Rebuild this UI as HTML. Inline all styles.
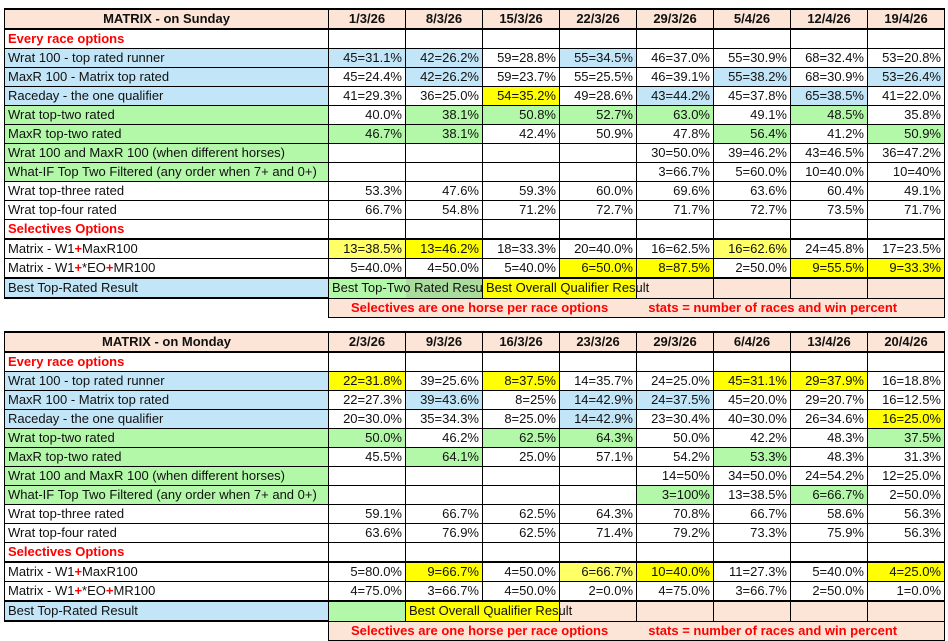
<!DOCTYPE html>
<html><head><meta charset="utf-8"><style>
body{margin:0;width:948px;height:639px;background:#fff;position:relative;overflow:hidden;font-family:"Liberation Sans",sans-serif;}
table{position:absolute;left:4px;width:940px;border-collapse:collapse;table-layout:fixed;font-size:13px;}
td{border:1px solid #000;height:18px;padding:0 3px;white-space:nowrap;overflow:hidden;text-align:right;line-height:18px;color:#111;}
td.l{text-align:left;overflow:visible;}
tr.h td{background:#fce4d6;font-weight:bold;text-align:center;height:17px;border-bottom:2px solid #000;border-top:2px solid #000;}
.r{color:#f00;font-weight:bold;}
.B{background:#c2e6f7;}
.G{background:#b3f7a8;}
.Y{background:#ffff00;}
.LY{background:#ffff66;}
.P{background:#fce4d6;}
.DG{background:#a9dc9d;}
.note td.n{background:#fce4d6;border:1px solid #000;color:#f00;font-weight:bold;text-align:left;padding-left:22px;}
tr.tb td{border-top:2px solid #000;}
</style></head><body>

<table style="top:8px">
<colgroup><col style="width:324px"><col style="width:77px"><col style="width:77px"><col style="width:77px"><col style="width:77px"><col style="width:77px"><col style="width:77px"><col style="width:77px"><col style="width:77px"></colgroup>
<tr class="h"><td>MATRIX - on Sunday</td><td>1/3/26</td><td>8/3/26</td><td>15/3/26</td><td>22/3/26</td><td>29/3/26</td><td>5/4/26</td><td>12/4/26</td><td>19/4/26</td></tr>
<tr><td class="l r">Every race options</td><td></td><td></td><td></td><td></td><td></td><td></td><td></td><td></td></tr>
<tr><td class="l B">Wrat 100 - top rated runner</td><td class="B">45=31.1%</td><td class="B">42=26.2%</td><td>59=28.8%</td><td class="B">55=34.5%</td><td>46=37.0%</td><td>55=30.9%</td><td>68=32.4%</td><td>53=20.8%</td></tr>
<tr><td class="l B">MaxR 100 - Matrix top rated</td><td>45=24.4%</td><td class="B">42=26.2%</td><td>59=23.7%</td><td>55=25.5%</td><td>46=39.1%</td><td class="B">55=38.2%</td><td>68=30.9%</td><td class="B">53=26.4%</td></tr>
<tr><td class="l B">Raceday - the one qualifier</td><td>41=29.3%</td><td>36=25.0%</td><td class="Y">54=35.2%</td><td>49=28.6%</td><td class="B">43=44.2%</td><td>45=37.8%</td><td class="B">65=38.5%</td><td>41=22.0%</td></tr>
<tr><td class="l G">Wrat top-two rated</td><td>40.0%</td><td class="G">38.1%</td><td class="G">50.8%</td><td class="G">52.7%</td><td class="G">63.0%</td><td>49.1%</td><td class="G">48.5%</td><td>35.8%</td></tr>
<tr><td class="l G">MaxR top-two rated</td><td class="G">46.7%</td><td class="G">38.1%</td><td>42.4%</td><td>50.9%</td><td>47.8%</td><td class="G">56.4%</td><td>41.2%</td><td class="G">50.9%</td></tr>
<tr><td class="l G">Wrat 100 and MaxR 100 (when different horses)</td><td></td><td></td><td></td><td></td><td>30=50.0%</td><td>39=46.2%</td><td>43=46.5%</td><td>36=47.2%</td></tr>
<tr><td class="l G">What-IF Top Two Filtered (any order when 7+ and 0+)</td><td></td><td></td><td></td><td></td><td>3=66.7%</td><td>5=60.0%</td><td>10=40.0%</td><td>10=40%</td></tr>
<tr><td class="l">Wrat top-three rated</td><td>53.3%</td><td>47.6%</td><td>59.3%</td><td>60.0%</td><td>69.6%</td><td>63.6%</td><td>60.4%</td><td>49.1%</td></tr>
<tr><td class="l">Wrat top-four rated</td><td>66.7%</td><td>54.8%</td><td>71.2%</td><td>72.7%</td><td>71.7%</td><td>72.7%</td><td>73.5%</td><td>71.7%</td></tr>
<tr><td class="l r">Selectives Options</td><td></td><td></td><td></td><td></td><td></td><td></td><td></td><td></td></tr>
<tr class="tb"><td class="l">Matrix - W1<span class="r">+</span>MaxR100</td><td class="LY">13=38.5%</td><td class="Y">13=46.2%</td><td>18=33.3%</td><td>20=40.0%</td><td>16=62.5%</td><td class="LY">16=62.6%</td><td>24=45.8%</td><td>17=23.5%</td></tr>
<tr><td class="l">Matrix - W1<span class="r">+</span>*EO<span class="r">+</span>MR100</td><td>5=40.0%</td><td>4=50.0%</td><td>5=40.0%</td><td class="Y">6=50.0%</td><td class="Y">8=87.5%</td><td>2=50.0%</td><td class="Y">9=55.5%</td><td class="Y">9=33.3%</td></tr>
<tr class="tb"><td class="l B">Best Top-Rated Result</td><td class="l G" style="border-right:none;position:relative;z-index:1">Best Top-Two Rated Resu</td><td class="DG" style="border-left:none"></td><td class="l Y" style="border-right:none">Best Overall Qualifier Result</td><td class="Y" style="border-left:none"></td><td class="P"></td><td class="P"></td><td class="P"></td><td class="P"></td></tr>
<tr class="note"><td style="border:none;border-top:2px solid #000"></td><td class="n" colspan="8">Selectives are one horse per race options<span style="display:inline-block;width:40px"></span>stats = number of races and win percent</td></tr>
</table>

<table style="top:331px">
<colgroup><col style="width:324px"><col style="width:77px"><col style="width:77px"><col style="width:77px"><col style="width:77px"><col style="width:77px"><col style="width:77px"><col style="width:77px"><col style="width:77px"></colgroup>
<tr class="h"><td>MATRIX - on Monday</td><td>2/3/26</td><td>9/3/26</td><td>16/3/26</td><td>23/3/26</td><td>29/3/26</td><td>6/4/26</td><td>13/4/26</td><td>20/4/26</td></tr>
<tr><td class="l r">Every race options</td><td></td><td></td><td></td><td></td><td></td><td></td><td></td><td></td></tr>
<tr><td class="l B">Wrat 100 - top rated runner</td><td class="Y">22=31.8%</td><td>39=25.6%</td><td class="Y">8=37.5%</td><td>14=35.7%</td><td>24=25.0%</td><td class="Y">45=31.1%</td><td class="Y">29=37.9%</td><td>16=18.8%</td></tr>
<tr><td class="l B">MaxR 100 - Matrix top rated</td><td>22=27.3%</td><td class="B">39=43.6%</td><td>8=25%</td><td class="B">14=42.9%</td><td class="B">24=37.5%</td><td>45=20.0%</td><td>29=20.7%</td><td>16=12.5%</td></tr>
<tr><td class="l B">Raceday - the one qualifier</td><td>20=30.0%</td><td>35=34.3%</td><td>8=25.0%</td><td class="B">14=42.9%</td><td>23=30.4%</td><td>40=30.0%</td><td>26=34.6%</td><td class="Y">16=25.0%</td></tr>
<tr><td class="l G">Wrat top-two rated</td><td class="G">50.0%</td><td>46.2%</td><td class="G">62.5%</td><td class="G">64.3%</td><td>50.0%</td><td>42.2%</td><td>48.3%</td><td class="G">37.5%</td></tr>
<tr><td class="l G">MaxR top-two rated</td><td>45.5%</td><td class="G">64.1%</td><td>25.0%</td><td>57.1%</td><td>54.2%</td><td class="G">53.3%</td><td>48.3%</td><td>31.3%</td></tr>
<tr><td class="l G">Wrat 100 and MaxR 100 (when different horses)</td><td></td><td></td><td></td><td></td><td>14=50%</td><td>34=50.0%</td><td>24=54.2%</td><td>12=25.0%</td></tr>
<tr><td class="l G">What-IF Top Two Filtered (any order when 7+ and 0+)</td><td></td><td></td><td></td><td></td><td class="G">3=100%</td><td>13=38.5%</td><td class="G">6=66.7%</td><td>2=50.0%</td></tr>
<tr><td class="l">Wrat top-three rated</td><td>59.1%</td><td>66.7%</td><td>62.5%</td><td>64.3%</td><td>70.8%</td><td>66.7%</td><td>58.6%</td><td>56.3%</td></tr>
<tr><td class="l">Wrat top-four rated</td><td>63.6%</td><td>76.9%</td><td>62.5%</td><td>71.4%</td><td>79.2%</td><td>73.3%</td><td>75.9%</td><td>56.3%</td></tr>
<tr><td class="l r">Selectives Options</td><td></td><td></td><td></td><td></td><td></td><td></td><td></td><td></td></tr>
<tr class="tb"><td class="l">Matrix - W1<span class="r">+</span>MaxR100</td><td>5=80.0%</td><td class="Y">9=66.7%</td><td>4=50.0%</td><td class="LY">6=66.7%</td><td class="Y">10=40.0%</td><td>11=27.3%</td><td>5=40.0%</td><td class="Y">4=25.0%</td></tr>
<tr><td class="l">Matrix - W1<span class="r">+</span>*EO<span class="r">+</span>MR100</td><td>4=75.0%</td><td>3=66.7%</td><td>4=50.0%</td><td>2=0.0%</td><td>4=75.0%</td><td>3=66.7%</td><td>2=50.0%</td><td>1=0.0%</td></tr>
<tr class="tb"><td class="l B">Best Top-Rated Result</td><td class="G"></td><td class="l Y" style="border-right:none">Best Overall Qualifier Result</td><td class="Y" style="border-left:none"></td><td class="P"></td><td class="P"></td><td class="P"></td><td class="P"></td><td class="P"></td></tr>
<tr class="note"><td style="border:none;border-top:2px solid #000"></td><td class="n" colspan="8">Selectives are one horse per race options<span style="display:inline-block;width:40px"></span>stats = number of races and win percent</td></tr>
</table>
</body></html>
